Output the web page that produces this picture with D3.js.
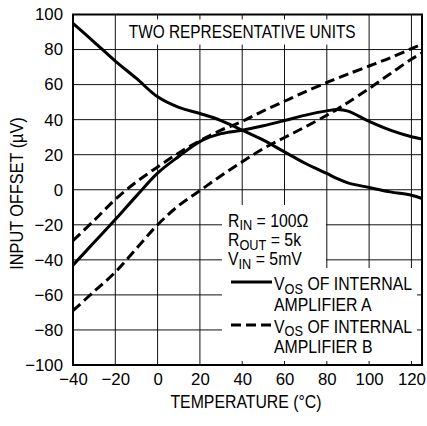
<!DOCTYPE html>
<html>
<head>
<meta charset="utf-8">
<script src="https://cdn.jsdelivr.net/npm/d3@7/dist/d3.min.js"></script>
<style>
  body { margin: 0; background: #fff; }
  text { font-family: "Liberation Sans", Arial, Helvetica, sans-serif; fill: #000; }
</style>
</head>
<body>
<div id="chart"></div>
<script>
// temperature (°C) and input offset (µV)
var temps = [-40, -30, -20, -10, 0, 10, 20, 30, 40, 50, 60, 70, 80, 85, 90, 100, 110, 120, 125];
var unitA1 = [95, 84.3, 73.4, 63.5, 53, 47, 43.5, 39.5, 34, 28.3, 21.6, 15, 9.3, 6.3, 3.9, 1.3, -1.2, -3.1, -5];
var unitA2 = [-43, -30, -17, -3.5, 9.5, 19, 27.5, 32, 34, 36.5, 39.5, 42.6, 45, 45.8, 44.9, 39, 34, 30.2, 29];
var unitB1 = [-29, -17.5, -5.5, 4.5, 13, 21, 28, 34, 39, 45, 50.5, 56, 61.2, 63.6, 66, 70.6, 75.3, 80.5, 83];
var unitB2 = [-69, -58, -47, -33.5, -20, -9, -0.5, 8, 16, 23.5, 29.8, 36, 42.5, 46, 49.8, 57.8, 66.2, 74.5, 78];

var xTicks = [-40, -20, 0, 20, 40, 60, 80, 100, 120];
var yTicks = [-100, -80, -60, -40, -20, 0, 20, 40, 60, 80, 100];

var width = 427;
var height = 426;
var plot = { left: 73, right: 422, top: 14.5, bottom: 365 };
var squeeze = 0.88; // the original type is a condensed face

var svg = d3.select("#chart").append("svg")
    .attr("width", width)
    .attr("height", height);

var x = d3.scaleLinear().domain([-40, 125]).range([plot.left, plot.right]);
var y = d3.scaleLinear().domain([-100, 100]).range([plot.bottom, plot.top]);

// grid
var grid = svg.append("g").attr("stroke", "#111").attr("stroke-width", 1);
xTicks.slice(1).forEach(function(t) {
    grid.append("line")
        .attr("x1", x(t)).attr("x2", x(t))
        .attr("y1", plot.top).attr("y2", plot.bottom);
});
yTicks.slice(1, -1).forEach(function(v) {
    grid.append("line")
        .attr("x1", plot.left).attr("x2", plot.right)
        .attr("y1", y(v)).attr("y2", y(v));
});

// white boxes behind the title and the legend, grid stubs stay as ticks
var boxes = svg.append("g").attr("fill", "#fff");
boxes.append("rect")
    .attr("x", x(-20) + 1.5).attr("y", plot.top + 5)
    .attr("width", x(100) - x(-20) - 3).attr("height", y(80) - plot.top - 10);
boxes.append("rect")
    .attr("x", 222).attr("y", 205)
    .attr("width", 104).attr("height", 70);
boxes.append("rect")
    .attr("x", 222).attr("y", 268)
    .attr("width", plot.right - 5 - 222).attr("height", plot.bottom - 4 - 268);

// curves
var line = d3.line()
    .x(function(d) { return x(d[0]); })
    .y(function(d) { return y(d[1]); })
    .curve(d3.curveCatmullRom.alpha(0.5));

var series = [
    { values: unitA1, dash: null },
    { values: unitA2, dash: null },
    { values: unitB1, dash: "10,5" },
    { values: unitB2, dash: "10,5" }
];

series.forEach(function(s) {
    svg.append("path")
        .datum(temps.map(function(t, i) { return [t, s.values[i]]; }))
        .attr("fill", "none")
        .attr("stroke", "#000")
        .attr("stroke-width", 3)
        .attr("stroke-dasharray", s.dash)
        .attr("d", line);
});

// frame
svg.append("rect")
    .attr("x", plot.left).attr("y", plot.top)
    .attr("width", plot.right - plot.left).attr("height", plot.bottom - plot.top)
    .attr("fill", "none").attr("stroke", "#000").attr("stroke-width", 2);

// axes (labels only)
var yAxis = svg.append("g")
    .attr("transform", "translate(" + plot.left + ",0)")
    .call(d3.axisLeft(y).tickValues(yTicks).tickSize(0).tickPadding(10));
var xAxis = svg.append("g")
    .attr("transform", "translate(0," + plot.bottom + ")")
    .call(d3.axisBottom(x).tickValues(xTicks).tickSize(0).tickPadding(8.5));
[xAxis, yAxis].forEach(function(a) {
    a.select(".domain").remove();
    a.selectAll("text")
        .style("font-family", "'Liberation Sans', Arial, sans-serif")
        .style("font-size", "16.8px");
});

// condensed text helper
function label(xPos, yPos, size, str, extra) {
    return svg.append("text")
        .attr("transform", "translate(" + xPos + "," + yPos + ")" + (extra || "") +
              " scale(" + squeeze + ",1)")
        .style("font-size", size + "px")
        .text(str);
}

label(246, 408, 18, "TEMPERATURE (°C)").attr("text-anchor", "middle");
label(23, 193.5, 18.5, "INPUT OFFSET (µV)", " rotate(-90)").attr("text-anchor", "middle");
label(x(40), 37.7, 17.5, "TWO REPRESENTATIVE UNITS").attr("text-anchor", "middle");

// legend
function subText(xPos, yPos, main, sub, rest) {
    var t = label(xPos, yPos, 18, null);
    t.append("tspan").text(main);
    t.append("tspan").attr("dy", 3.5).style("font-size", "14.5px").text(sub);
    t.append("tspan").attr("dy", -3.5).text(rest);
}
subText(228, 226.7, "R", "IN", " = 100Ω");
subText(228, 246, "R", "OUT", " = 5k");
subText(228, 265, "V", "IN", " = 5mV");
subText(274, 290, "V", "OS", " OF INTERNAL");
label(274, 311, 18, "AMPLIFIER A");
subText(274, 332.7, "V", "OS", " OF INTERNAL");
label(274, 352.7, 18, "AMPLIFIER B");

svg.append("line")
    .attr("x1", 231).attr("x2", 272).attr("y1", 282).attr("y2", 282)
    .attr("stroke", "#000").attr("stroke-width", 3);
svg.append("line")
    .attr("x1", 231).attr("x2", 271).attr("y1", 325).attr("y2", 325)
    .attr("stroke", "#000").attr("stroke-width", 3)
    .attr("stroke-dasharray", "10,5");
</script>
</body>
</html>
